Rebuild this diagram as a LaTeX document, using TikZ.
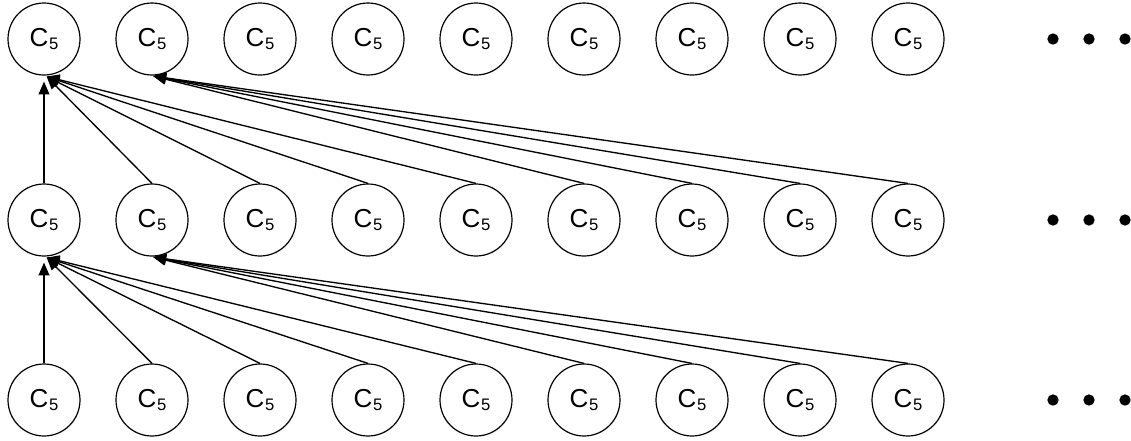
\documentclass[tikz,border=0pt]{standalone}
\usepackage{fontspec}
\setmainfont{Liberation Sans}
\usetikzlibrary{arrows.meta,calc}
\newcommand{\Cfive}{{\fontsize{19.5}{22}\selectfont C\kern0.6pt\raisebox{-2.5pt}{\fontsize{12.5}{12}\selectfont 5}}}
\begin{document}
\begin{tikzpicture}[x=0.75pt,y=-0.75pt,
  cnode/.style={circle,draw,line width=0.9pt,minimum size=54pt,inner sep=0pt},
  dotnode/.style={circle,fill,inner sep=0pt,minimum size=8.5pt},
  link/.style={line width=1pt,-{Triangle[length=9.5pt,width=8pt]}}]
\useasboundingbox (0,0) rectangle (1131,440);
\foreach \r/\y in {1/39,2/220,3/400}{
  \foreach \c in {1,...,9}{
    \node[cnode] (n\r\c) at ({44+108*(\c-1)},\y) {\Cfive};
  }
  \foreach \d in {1,2,3}{
    \node[dotnode] (d\r\d) at ({1053+36*(\d-1)},\y) {};
  }
}
\foreach \r/\s in {1/2,2/3}{
  \coordinate (a\r) at ($(n\r1.south)+(2.7,1)$);
  \coordinate (v\r) at ($(n\r1.south)+(0,6)$);
  \coordinate (b\r) at ($(n\r2.south)+(1.3,0.5)$);
  \draw[link] (n\s1.north) -- (v\r);
  \foreach \c in {2,...,5}{
    \draw[link] (n\s\c.north) -- (a\r);
  }
  \foreach \c in {6,...,9}{
    \draw[link] (n\s\c.north) -- (b\r);
  }
}
\end{tikzpicture}
\end{document}
